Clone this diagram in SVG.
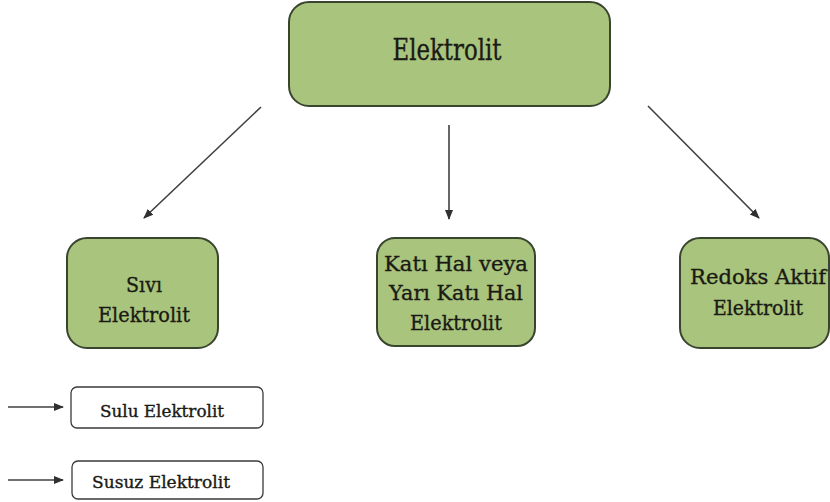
<svg xmlns="http://www.w3.org/2000/svg" width="830" height="502" viewBox="0 0 830 502">
<style>
.g{fill:#a9c47c;stroke:#3a4530;stroke-width:2}
.w{fill:#fff;stroke:#3a3a3a;stroke-width:1.3}
.t{fill:#1a1a14;text-anchor:middle;stroke:#1a1a14;stroke-width:0.35;font-family:"DejaVu Serif","Liberation Serif",serif}
.c{stroke:#404040;stroke-width:1.6;fill:none;marker-end:url(#ah)}
</style>
<defs>
<marker id="ah" viewBox="0 0 10 10" refX="9" refY="5" markerWidth="10" markerHeight="10" orient="auto" markerUnits="userSpaceOnUse">
<path d="M0,1 L10,5 L0,9 Z" fill="#303030"/>
</marker>
</defs>
<rect width="830" height="502" fill="#fff"/>
<g id="connectors">
<line class="c" x1="261" y1="107" x2="144" y2="218"/>
<line class="c" x1="449" y1="125" x2="449" y2="219"/>
<line class="c" x1="648" y1="106" x2="759" y2="218"/>
<line class="c" x1="8" y1="407" x2="63" y2="407"/>
<line class="c" x1="8" y1="480" x2="63" y2="480"/>
</g>
<g id="elektrolit">
<rect class="g" x="289" y="2" width="321" height="104" rx="20"/>
<text class="t" x="447" y="60" font-size="30" textLength="109" lengthAdjust="spacingAndGlyphs">Elektrolit</text>
</g>
<g id="sivi">
<rect class="g" x="67" y="238" width="151" height="110" rx="20"/>
<text class="t" x="144" y="292" font-size="21" textLength="36" lengthAdjust="spacingAndGlyphs">Sıvı</text>
<text class="t" x="144" y="322" font-size="21" textLength="92" lengthAdjust="spacingAndGlyphs">Elektrolit</text>
</g>
<g id="kati">
<rect class="g" x="377" y="238" width="158" height="108" rx="18"/>
<text class="t" x="456" y="271" font-size="21" textLength="144" lengthAdjust="spacingAndGlyphs">Katı Hal veya</text>
<text class="t" x="456" y="300" font-size="21" textLength="134" lengthAdjust="spacingAndGlyphs">Yarı Katı Hal</text>
<text class="t" x="456" y="330" font-size="21" textLength="92" lengthAdjust="spacingAndGlyphs">Elektrolit</text>
</g>
<g id="redoks">
<rect class="g" x="680" y="238" width="149" height="110" rx="20"/>
<text class="t" x="758" y="284" font-size="21" textLength="136" lengthAdjust="spacingAndGlyphs">Redoks Aktif</text>
<text class="t" x="758" y="315" font-size="21" textLength="90" lengthAdjust="spacingAndGlyphs">Elektrolit</text>
</g>
<g id="sulu">
<rect class="w" x="71" y="387" width="192" height="41" rx="6"/>
<text class="t" x="162" y="417" font-size="16" textLength="124" lengthAdjust="spacingAndGlyphs">Sulu Elektrolit</text>
</g>
<g id="susuz">
<rect class="w" x="72" y="461" width="191" height="38" rx="6"/>
<text class="t" x="161" y="488" font-size="16" textLength="138" lengthAdjust="spacingAndGlyphs">Susuz Elektrolit</text>
</g>
</svg>
